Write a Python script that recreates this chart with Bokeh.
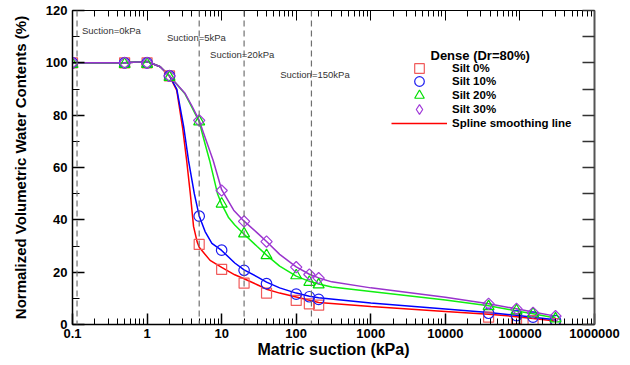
import math
from bokeh.plotting import figure
from bokeh.models import (Range1d, LogAxis, LinearAxis, FixedTicker, SingleIntervalTicker,
                          CustomJSTickFormatter, Span, Label, Legend, LegendItem)
from bokeh.embed import file_html
from bokeh.resources import INLINE

FONT = "Liberation Sans"

# ---------------- data ----------------
suction_kpa = [0.1, 0.5, 1, 2, 5, 10, 20, 40, 100, 150, 200, 38000, 90000, 150000, 300000]
silt_0 = [100, 100, 100, 95, 30.6, 21.1, 15.8, 12.0, 9.2, 7.9, 7.4, 2.8, 2.2, 1.5, 0.3]
silt_10 = [100, 100, 100, 95, 41.4, 28.4, 20.7, 15.6, 11.6, 10.6, 9.6, 4.3, 3.4, 2.8, 1.5]
silt_20 = [99.5, 99.5, 99.5, 94.5, 77.5, 46.1, 34.7, 26.4, 18.7, 16.2, 15.2, 6.9, 5.3, 4.1, 2.2]
silt_30 = [100, 100, 100, 95, 78, 51.2, 39.4, 31.7, 21.9, 19.1, 17.7, 7.9, 6.0, 4.5, 3.2]

# spline smoothing lines
spline0_x = [0.1, 0.5, 1, 1.5, 2, 2.5, 3, 3.4, 3.8, 4.2, 4.7, 5, 7, 10, 15, 20, 30, 40, 60, 100,
             200, 1000, 10000, 38000, 90000, 150000, 300000]
spline0_y = [100, 100, 100.5, 98.5, 95, 89.5, 75, 62.5, 50, 37.5, 31.5, 29.5, 24.5, 21.8, 19, 17.5,
             15.2, 13.5, 12.0, 10.5, 8.4, 6.9, 5.0, 3.9, 3.0, 2.3, 1.3]
spline10_x = [0.1, 0.5, 1, 1.5, 2, 2.5, 3.1, 3.6, 4.3, 5, 6, 7.4, 10, 15, 20, 30, 40, 60, 100, 150,
              200, 1000, 10000, 38000, 90000, 150000, 300000]
spline10_y = [100, 100, 100.5, 98.5, 95, 90, 75.5, 62.5, 50, 41.5, 35.5, 31, 28.3, 23.5, 20.9, 18.2,
              16.2, 14, 12, 10.8, 10.2, 8.2, 5.9, 4.6, 3.5, 2.8, 1.8]
spline20_x = [0.1, 0.5, 1, 1.5, 2, 3.2, 4, 5, 6, 6.9, 8.8, 10, 12.3, 15, 20, 30, 40, 60, 100, 150,
              200, 300, 1000, 10000, 38000, 90000, 150000, 300000]
spline20_y = [100, 100, 100.5, 98.5, 95, 88.3, 83, 77.5, 69, 62.7, 50, 46, 41, 38, 34.5, 29.8, 26.5,
              22.3, 18.5, 16.5, 15.5, 14.3, 12.6, 9.4, 7.2, 5.2, 4.1, 2.5]
spline30_x = [0.1, 0.5, 1, 1.5, 2, 3.2, 4, 5, 6, 7.7, 10, 14.5, 20, 30, 40, 60, 100, 150, 200, 300,
              1000, 10000, 38000, 90000, 150000, 300000]
spline30_y = [100, 100, 100.5, 98.5, 95, 88.5, 83.5, 78, 71.5, 62.7, 51.5, 43.7, 39.5, 35, 31.7, 26.8,
              22, 19.2, 17.8, 16.3, 14, 10.4, 7.9, 6.0, 4.8, 3.2]

series_names = ["Silt 0%", "Silt 10%", "Silt 20%", "Silt 30%"]
legend_title = "Dense (Dr=80%)"
line_name = "Spline smoothing line"

decade_ticks = [0.1, 1, 10, 100, 1000, 10000, 100000, 1000000]
x_tick_labels = ["0.1", "1", "10", "100", "1000", "10000", "100000", "1000000"]
suction_lines = [0.115, 5, 20, 160]
suction_texts = ["Suction=0kPa", "Suction=5kPa", "Suction=20kPa", "Suction=150kPa"]
suction_text_x = [0.134, 1.85, 7.0, 61]
suction_text_y = [112.3, 109.7, 103.2, 95.5]

# ---------------- figure ----------------
p = figure(width=630, height=365, x_axis_type="log",
           x_range=Range1d(0.1, 1000000), y_range=Range1d(0, 120),
           output_backend="svg", toolbar_location=None,
           min_border_left=72, min_border_right=36, min_border_top=10, min_border_bottom=41)
p.outline_line_color = None
p.xgrid.visible = False
p.ygrid.visible = False
p.background_fill_color = "white"
p.border_fill_color = "white"

minor = [m * 10.0 ** e for e in range(-1, 6) for m in range(2, 10)]
xt = FixedTicker(ticks=decade_ticks, minor_ticks=minor)
fmt = CustomJSTickFormatter(args=dict(dticks=decade_ticks, dlabels=x_tick_labels), code="""
    for (let i = 0; i < dticks.length; i++) {
        if (Math.abs(Math.log10(dticks[i]) - Math.log10(tick)) < 1e-6) return dlabels[i];
    }
    return "";
""")

xa = p.xaxis[0]
xa.ticker = xt
xa.formatter = fmt
xa.major_tick_in = 11
xa.major_tick_out = 0
xa.minor_tick_in = 6
xa.minor_tick_out = 0
xa.axis_line_width = 1.5
xa.major_tick_line_width = 1.5
xa.major_label_standoff = 4
xa.major_label_text_font = FONT
xa.major_label_text_font_style = "bold"
xa.major_label_text_font_size = "13px"
xa.major_label_text_color = "black"
xa.axis_label = "Matric suction (kPa)"
xa.axis_label_text_font = FONT
xa.axis_label_text_font_style = "bold"
xa.axis_label_text_font_size = "16px"
xa.axis_label_text_color = "black"
xa.axis_label_standoff = 0

ya = p.yaxis[0]
ya.ticker = SingleIntervalTicker(interval=20, num_minor_ticks=2)
ya.major_tick_in = 12
ya.major_tick_out = 0
ya.minor_tick_in = 7
ya.minor_tick_out = 0
ya.axis_line_width = 1.5
ya.major_tick_line_width = 1.5
ya.major_label_standoff = 5
ya.major_label_text_font = FONT
ya.major_label_text_font_style = "bold"
ya.major_label_text_font_size = "13px"
ya.major_label_text_color = "black"
ya.axis_label = "Normalized Volumetric Water Contents (%)"
ya.axis_label_text_font = FONT
ya.axis_label_text_font_style = "bold"
ya.axis_label_text_font_size = "15px"
ya.axis_label_text_color = "black"
ya.axis_label_standoff = 14

top = LogAxis(ticker=FixedTicker(ticks=decade_ticks, minor_ticks=minor),
              major_tick_in=10, major_tick_out=0, minor_tick_in=6, minor_tick_out=0,
              major_label_text_font_size="1px", major_label_text_color=None,
              major_label_standoff=0,
              axis_line_color="black", axis_line_width=1)
p.add_layout(top, "above")
right = LinearAxis(ticker=SingleIntervalTicker(interval=10, num_minor_ticks=0),
                   major_tick_in=12, major_tick_out=0, minor_tick_in=0, minor_tick_out=0,
                   major_label_text_font_size="1px", major_label_text_color=None,
                   major_label_standoff=0,
                   axis_line_color="#555555", axis_line_width=2,
                   major_tick_line_color="#333333", major_tick_line_width=1.5)
p.add_layout(right, "right")

# dashed suction lines and their texts
for loc in suction_lines:
    p.add_layout(Span(location=loc, dimension="height", line_color="#707070",
                      line_dash="6 4", line_width=1.2))
for t, tx, ty in zip(suction_texts, suction_text_x, suction_text_y):
    p.add_layout(Label(x=tx, y=ty, text=t, text_font=FONT, text_font_size="9.5px",
                       text_color="#333333", text_baseline="middle", text_align="left"))

# spline lines
red_line = p.line(spline0_x, spline0_y, line_color="#FF0000", line_width=1.5)
p.line(spline10_x, spline10_y, line_color="#0000FF", line_width=1.5)
p.line(spline20_x, spline20_y, line_color="#11EE11", line_width=1.5)
p.line(spline30_x, spline30_y, line_color="#9933CC", line_width=1.5)

# markers
r0 = p.scatter(suction_kpa, silt_0, marker="square", size=10, fill_color=None,
               line_color="#F05A5A", line_width=1.2)
r1 = p.scatter(suction_kpa, silt_10, marker="circle", size=10.5, fill_color=None,
               line_color="#1E1EF0", line_width=1.2)
r2 = p.scatter(suction_kpa, silt_20, marker="triangle", size=11, fill_color=None,
               line_color="#00DD00", line_width=1.2)
p.scatter(suction_kpa, silt_30, marker="square", angle=math.pi / 4, size=8, fill_color=None,
          line_color="#A03AD8", line_width=1.2)
# same series, hidden, only to give the legend a diamond icon
r3_legend = p.scatter(suction_kpa, silt_30, marker="diamond", size=10, fill_color=None,
                      line_color="#A03AD8", line_width=1.2, visible=False)

# one single-item legend per row (rows 14px apart, icons 24px tall)
legend_rows = [(series_names[0], r0, 244), (series_names[1], r1, 231),
               (series_names[2], r2, 217), (series_names[3], r3_legend, 203),
               (line_name, red_line, 189)]
for name, rend, vy in legend_rows:
    lg = Legend(items=[LegendItem(label=name, renderers=[rend])],
                location=(319, vy), glyph_width=56, glyph_height=24, label_height=14,
                label_standoff=5, spacing=0, padding=0, margin=0,
                border_line_color=None, background_fill_alpha=0,
                inactive_fill_alpha=0,
                label_text_font=FONT, label_text_font_style="bold",
                label_text_font_size="11.5px", label_text_color="black")
    p.add_layout(lg)

p.add_layout(Label(x=358, y=269, x_units="screen", y_units="screen", text=legend_title,
                   text_font=FONT, text_font_style="bold", text_font_size="13px",
                   text_color="black", text_baseline="middle", text_align="left"))

open("out.html", "w").write(file_html(p, INLINE))
